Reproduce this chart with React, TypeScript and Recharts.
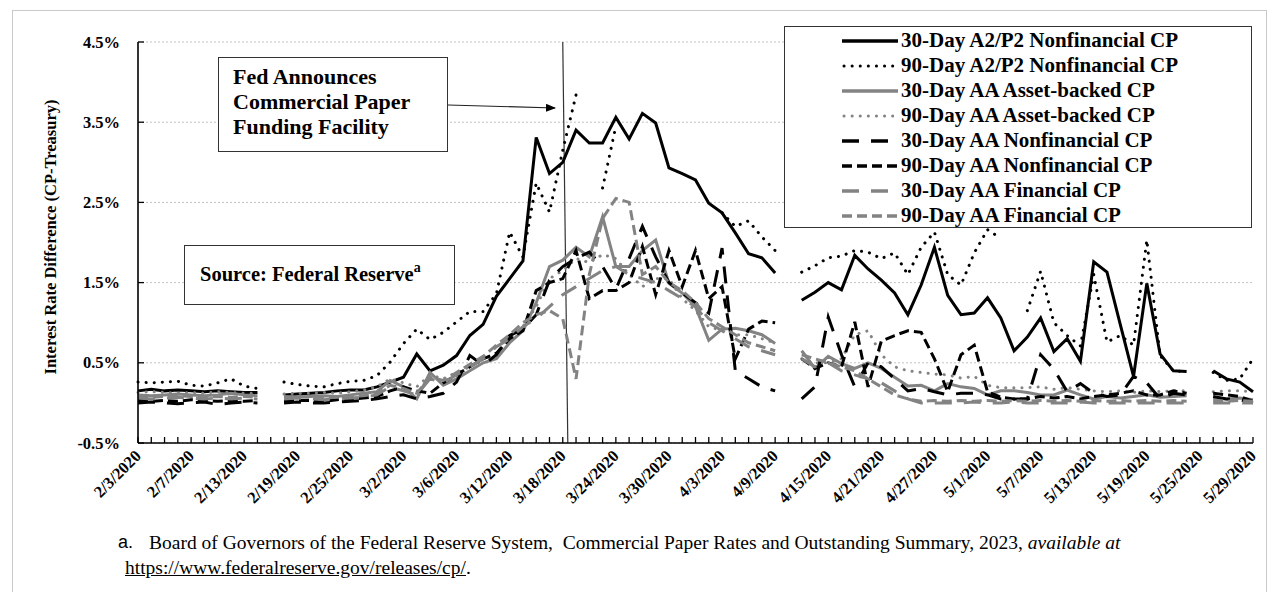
import { LineChart, Line, XAxis, YAxis, CartesianGrid, Legend, ReferenceLine } from "recharts"

// business days 2/3/2020 - 5/29/2020 (holidays kept as empty slots)
const dates = [
  "2/3/2020", "2/4/2020", "2/5/2020", "2/6/2020", "2/7/2020", "2/10/2020", "2/11/2020", "2/12/2020", "2/13/2020", "2/14/2020",
  "2/17/2020", "2/18/2020", "2/19/2020", "2/20/2020", "2/21/2020", "2/24/2020", "2/25/2020", "2/26/2020", "2/27/2020", "2/28/2020",
  "3/2/2020", "3/3/2020", "3/4/2020", "3/5/2020", "3/6/2020", "3/9/2020", "3/10/2020", "3/11/2020", "3/12/2020", "3/13/2020",
  "3/16/2020", "3/17/2020", "3/18/2020", "3/19/2020", "3/20/2020", "3/23/2020", "3/24/2020", "3/25/2020", "3/26/2020", "3/27/2020",
  "3/30/2020", "3/31/2020", "4/1/2020", "4/2/2020", "4/3/2020", "4/6/2020", "4/7/2020", "4/8/2020", "4/9/2020", "4/10/2020",
  "4/13/2020", "4/14/2020", "4/15/2020", "4/16/2020", "4/17/2020", "4/20/2020", "4/21/2020", "4/22/2020", "4/23/2020", "4/24/2020",
  "4/27/2020", "4/28/2020", "4/29/2020", "4/30/2020", "5/1/2020", "5/4/2020", "5/5/2020", "5/6/2020", "5/7/2020", "5/8/2020",
  "5/11/2020", "5/12/2020", "5/13/2020", "5/14/2020", "5/15/2020", "5/18/2020", "5/19/2020", "5/20/2020", "5/21/2020", "5/22/2020",
  "5/25/2020", "5/26/2020", "5/27/2020", "5/28/2020", "5/29/2020",
]

const yTicks = [-0.5, 0.5, 1.5, 2.5, 3.5, 4.5]

const a2p2Nonfin30 = [
  0.15, 0.17, 0.15, 0.16, 0.15, 0.14, 0.15, 0.14, 0.13, 0.13,
  null, 0.10, 0.11, 0.12, 0.13, 0.15, 0.16, 0.16, 0.20, 0.26,
  0.32, 0.61, 0.40, 0.47, 0.59, 0.84, 0.98, 1.33, 1.55, 1.77,
  3.31, 2.86, 3.00, 3.40, 3.24, 3.24, 3.56, 3.29, 3.61, 3.49,
  2.93, 2.86, 2.78, 2.49, 2.37, 2.12, 1.86, 1.81, 1.62, null,
  1.28, 1.38, 1.50, 1.41, 1.84, 1.67, 1.53, 1.37, 1.10, 1.47,
  1.94, 1.34, 1.10, 1.12, 1.31, 1.06, 0.65, 0.82, 1.06, 0.64,
  0.80, 0.52, 1.76, 1.63, 0.98, 0.33, 1.49, 0.61, 0.40, 0.39,
  null, 0.40, 0.30, 0.26, 0.14,
]

const a2p2Nonfin90 = [
  0.26, 0.25, 0.26, 0.27, 0.22, 0.21, 0.25, 0.30, 0.21, 0.18,
  null, 0.26, 0.23, 0.21, 0.20, 0.24, 0.27, 0.28, 0.34, 0.51,
  0.74, 0.92, 0.79, 0.88, 1.01, 1.14, 1.14, 1.36, 2.13, 1.82,
  2.74, 2.38, 3.15, 3.84, null, 2.68, 3.45, null, null, null,
  null, null, null, null, 2.37, 2.20, 2.27, 2.07, 1.90, null,
  1.63, 1.71, 1.81, 1.83, 1.90, 1.88, 1.80, 1.87, 1.60, 1.94,
  2.13, 1.60, 1.47, 1.87, 2.16, 2.05, null, 1.15, 1.64, 1.00,
  0.84, 0.71, 1.60, 0.76, 0.84, 0.72, 2.03, 0.59, 0.40, 0.39,
  null, 0.38, 0.28, 0.30, 0.55,
]

const aaAbs30 = [
  0.10, 0.09, 0.10, 0.11, 0.10, 0.09, 0.10, 0.12, 0.10, 0.09,
  null, 0.08, 0.07, 0.08, 0.09, 0.08, 0.10, 0.12, 0.14, 0.28,
  0.20, 0.05, 0.38, 0.22, 0.30, 0.40, 0.50, 0.55, 0.75, 0.90,
  1.25, 1.70, 1.78, 1.94, 1.82, 2.32, 1.70, 1.70, 1.90, 2.03,
  1.49, 1.37, 1.20, 0.78, 0.92, 0.93, 0.90, 0.85, 0.74, null,
  0.65, 0.43, 0.58, 0.49, 0.43, 0.50, 0.43, 0.32, 0.21, 0.22,
  0.15, 0.24, 0.20, 0.18, 0.10, 0.15, 0.15, 0.13, 0.10, 0.10,
  0.16, 0.10, 0.05, 0.08, 0.06, 0.08, 0.10, 0.07, 0.08, 0.09,
  null, 0.06, 0.05, 0.06, 0.04,
]

const aaAbs90 = [
  0.13, 0.14, 0.13, 0.12, 0.13, 0.12, 0.14, 0.13, 0.12, 0.12,
  null, 0.11, 0.12, 0.12, 0.13, 0.12, 0.14, 0.16, 0.20, 0.30,
  0.25, 0.20, 0.35, 0.30, 0.38, 0.45, 0.55, 0.60, 0.80, 0.95,
  1.20, 1.55, 1.65, 1.80, 1.75, 1.85, 1.80, 1.60, 1.45, 1.55,
  1.55, 1.30, 1.15, 0.95, 0.90, 0.85, 0.85, 0.80, 0.75, null,
  0.55, 0.50, 0.50, 0.55, 0.85, 0.90, 0.60, 0.45, 0.40, 0.38,
  0.36, 0.35, 0.31, 0.33, 0.22, 0.19, 0.19, 0.19, 0.20, 0.17,
  0.19, 0.17, 0.15, 0.14, 0.15, 0.13, 0.15, 0.14, 0.15, 0.15,
  null, 0.14, 0.15, 0.15, 0.14,
]

const aaNonfin30 = [
  0.00, 0.01, 0.00, -0.01, 0.00, 0.01, -0.02, 0.00, 0.01, 0.00,
  null, 0.00, 0.01, 0.00, 0.00, 0.01, 0.02, 0.03, 0.05, 0.08,
  0.10, 0.05, 0.08, 0.12, 0.26, 0.59, 0.47, 0.60, 0.84, 0.92,
  1.10, 1.53, 1.70, 1.80, 1.88, 1.70, 1.42, 1.80, 2.20, 1.82,
  1.50, 1.37, 1.25, 1.12, 1.93, 0.40, 0.30, 0.20, 0.15, null,
  0.05, 0.20, 1.07, 0.60, 0.20, 0.50, 0.45, 0.30, 0.15, 0.18,
  0.14, 0.10, 0.12, 0.12, 0.10, 0.05, 0.05, 0.05, 0.60, 0.42,
  0.14, 0.24, 0.12, 0.08, 0.10, 0.33, 0.25, 0.05, 0.12, 0.10,
  null, 0.08, 0.05, 0.04, 0.00,
]

const aaNonfin90 = [
  0.03, 0.02, 0.03, 0.02, 0.04, 0.03, 0.02, 0.03, 0.02, 0.03,
  null, 0.02, 0.03, 0.03, 0.02, 0.04, 0.05, 0.06, 0.08, 0.15,
  0.20, 0.15, 0.12, 0.25, 0.35, 0.45, 0.55, 0.62, 0.80, 0.90,
  1.40, 1.50, 1.55, 1.90, 1.30, 1.40, 1.40, 1.50, 1.95, 1.35,
  1.90, 1.45, 1.90, 1.30, 1.45, 0.55, 0.92, 1.02, 1.00, null,
  0.55, 0.43, 0.50, 0.45, 1.01, 0.20, 0.77, 0.84, 0.90, 0.88,
  0.55, 0.14, 0.60, 0.72, 0.14, 0.07, 0.05, 0.05, 0.08, 0.06,
  0.08, 0.05, 0.08, 0.10, 0.12, 0.15, 0.10, 0.10, 0.15, 0.12,
  null, 0.12, 0.10, 0.08, 0.02,
]

const aaFin30 = [
  0.06, 0.05, 0.06, 0.07, 0.06, 0.05, 0.06, 0.05, 0.06, 0.05,
  null, 0.05, 0.06, 0.05, 0.04, 0.05, 0.06, 0.07, 0.10, 0.20,
  0.15, 0.10, 0.30, 0.25, 0.35, 0.45, 0.55, 0.70, 0.80, 0.95,
  1.05, 1.20, 1.35, 1.45, 1.55, 1.65, 1.70, 1.60, 1.55, 1.50,
  1.40, 1.30, 1.20, 1.00, 0.90, 0.80, 0.70, 0.65, 0.60, null,
  0.55, 0.45, 0.50, 0.40, 0.35, 0.30, 0.25, 0.15, 0.05, 0.00,
  0.00, 0.00, 0.00, 0.01, 0.00, 0.00, 0.01, 0.00, 0.00, 0.00,
  0.00, 0.01, 0.00, 0.00, 0.00, 0.00, 0.00, 0.00, 0.00, 0.00,
  null, 0.00, 0.00, 0.00, 0.00,
]

const aaFin90 = [
  0.08, 0.07, 0.08, 0.09, 0.08, 0.07, 0.08, 0.07, 0.08, 0.07,
  null, 0.07, 0.08, 0.07, 0.06, 0.07, 0.08, 0.09, 0.12, 0.22,
  0.18, 0.12, 0.32, 0.28, 0.38, 0.48, 0.58, 0.72, 0.85, 1.00,
  1.10, 1.15, 1.05, 0.30, 1.60, 2.30, 2.55, 2.50, 1.60, 1.70,
  1.50, 1.40, 1.25, 1.05, 0.95, 0.85, 0.75, 0.70, 0.65, null,
  0.60, 0.55, 0.50, 0.45, 0.40, 0.30, 0.20, 0.10, 0.05, 0.02,
  0.03, 0.02, 0.03, 0.02, 0.03, 0.02, 0.03, 0.02, 0.03, 0.02,
  0.03, 0.02, 0.03, 0.02, 0.03, 0.02, 0.03, 0.02, 0.03, 0.02,
  null, 0.03, 0.02, 0.03, 0.02,
]

const GRAY = "#838383"
const SERIF = '"Liberation Serif", "Times New Roman", serif'

const series = [
  { key: "a2p2Nonfin30", name: "30-Day A2/P2 Nonfinancial CP", values: a2p2Nonfin30, color: "#000", dash: undefined, dot: false },
  { key: "a2p2Nonfin90", name: "90-Day A2/P2 Nonfinancial CP", values: a2p2Nonfin90, color: "#000", dash: "0.1 8", dot: true },
  { key: "aaAbs30", name: "30-Day AA Asset-backed CP", values: aaAbs30, color: GRAY, dash: undefined, dot: false },
  { key: "aaAbs90", name: "90-Day AA Asset-backed CP", values: aaAbs90, color: GRAY, dash: "0.1 8", dot: true },
  { key: "aaNonfin30", name: "30-Day AA Nonfinancial CP", values: aaNonfin30, color: "#000", dash: "17 12", dot: false },
  { key: "aaNonfin90", name: "90-Day AA Nonfinancial CP", values: aaNonfin90, color: "#000", dash: "10 5", dot: false },
  { key: "aaFin30", name: "30-Day AA Financial CP", values: aaFin30, color: GRAY, dash: "17 12", dot: false },
  { key: "aaFin90", name: "90-Day AA Financial CP", values: aaFin90, color: GRAY, dash: "10 5", dot: false },
]

const data = dates.map((d, i) => {
  const row: Record<string, any> = { i, date: d }
  series.forEach((s) => (row[s.key] = s.values[i]))
  return row
})

const xTicks = dates.map((_, i) => i)

function DateTick({ x, y, payload }: any) {
  const i = payload.value
  return (
    <g>
      <line x1={x} y1={y} x2={x} y2={y - 6} stroke="#000" strokeWidth={1.3} />
      {i % 4 === 0 && (
        <text
          x={x + 4}
          y={y + 14}
          transform={`rotate(-45 ${x + 4} ${y + 14})`}
          textAnchor="end"
          fontFamily={SERIF}
          fontWeight="bold"
          fontSize={16.5}
          fill="#000"
        >
          {dates[i]}
        </text>
      )}
    </g>
  )
}

function PctTick({ x, y, payload }: any) {
  return (
    <g>
      <line x1={x} y1={y} x2={x + 6} y2={y} stroke="#000" strokeWidth={1.3} />
      <text x={x - 18} y={y + 5.5} textAnchor="end" fontFamily={SERIF} fontWeight="bold" fontSize={16.5} fill="#000">
        {payload.value.toFixed(1)}%
      </text>
    </g>
  )
}

function YTitle() {
  return (
    <text
      x={50}
      y={237}
      transform="rotate(-90 50 237)"
      textAnchor="middle"
      dominantBaseline="central"
      fontFamily={SERIF}
      fontWeight="bold"
      fontSize={16.5}
      fill="#000"
    >
      Interest  Rate Difference (CP-Treasury)
    </text>
  )
}

function LegendBox() {
  return (
    <div
      style={{
        width: 468,
        height: 202,
        boxSizing: "border-box",
        border: "1.5px solid #333",
        background: "#fff",
        paddingTop: 1,
        paddingLeft: 56,
      }}
    >
      {series.map((s) => (
        <div key={s.key} style={{ display: "flex", alignItems: "center", height: 25 }}>
          <svg width={58} height={10} style={{ flex: "none" }}>
            <line
              x1={s.dot ? 3 : 1}
              y1={5}
              x2={57}
              y2={5}
              stroke={s.color}
              strokeWidth={s.dot ? 3 : 3.5}
              strokeDasharray={s.dash}
              strokeLinecap={s.dot ? "round" : "butt"}
            />
          </svg>
          <span style={{ fontFamily: SERIF, fontWeight: "bold", fontSize: 21, lineHeight: "25px", marginLeft: 2 }}>
            {s.name}
          </span>
        </div>
      ))}
    </div>
  )
}

export default function App() {
  const boxText = { fontFamily: SERIF, fontWeight: "bold" as const, color: "#000" }
  return (
    <div style={{ position: "relative", width: 1268, height: 592, background: "#fff", overflow: "hidden" }}>
      <style>{"body{margin:0}"}</style>
      <div
        style={{
          position: "absolute",
          left: 12,
          top: 10,
          width: 1253,
          height: 620,
          border: "1px solid #c9c9c9",
        }}
      />
      <div style={{ position: "absolute", left: 0, top: 0 }}>
        <LineChart width={1268} height={520} data={data} margin={{ top: 42, right: 15, bottom: 0, left: 0 }}>
          <CartesianGrid horizontal vertical={false} stroke="#c4c4c4" strokeDasharray="2 2" />
          <XAxis
            dataKey="i"
            type="number"
            domain={[0, 84]}
            ticks={xTicks}
            interval={0}
            height={77}
            tickSize={0}
            tickMargin={0}
            tick={<DateTick />}
            axisLine={{ stroke: "#000", strokeWidth: 1.6 }}
          />
          <YAxis
            domain={[-0.5, 4.5]}
            ticks={yTicks}
            width={138}
            tickSize={0}
            tickMargin={0}
            tick={<PctTick />}
            axisLine={{ stroke: "#000", strokeWidth: 1.6 }}
            label={<YTitle />}
          />
          <ReferenceLine
            segment={[
              { x: 32, y: 4.5 },
              { x: 32.38, y: -0.5 },
            ]}
            stroke="#333"
            strokeWidth={1.2}
          />
          {series.map((s) => (
            <Line
              key={s.key}
              type="linear"
              dataKey={s.key}
              name={s.name}
              stroke={s.color}
              strokeWidth={3}
              strokeDasharray={s.dash}
              strokeLinecap={s.dot ? "round" : "butt"}
              dot={false}
              activeDot={false}
              isAnimationActive={false}
            />
          ))}
          <Legend
            layout="vertical"
            align="center"
            verticalAlign="middle"
            content={<LegendBox />}
            wrapperStyle={{ position: "absolute", left: 784, top: 26, width: 468, height: 202 }}
          />
        </LineChart>
      </div>

      <svg width={1268} height={592} style={{ position: "absolute", left: 0, top: 0, pointerEvents: "none" }}>
        <defs>
          <marker id="arrowHead" markerWidth="10" markerHeight="8" refX="9" refY="4" orient="auto" markerUnits="userSpaceOnUse">
            <path d="M0,0 L10,4 L0,8 z" fill="#000" />
          </marker>
        </defs>
        <line x1={448} y1={105} x2={555} y2={108} stroke="#222" strokeWidth={1.2} markerEnd="url(#arrowHead)" />
      </svg>

      <div
        style={{
          position: "absolute",
          left: 218,
          top: 57,
          width: 230,
          height: 95,
          boxSizing: "border-box",
          border: "1.5px solid #333",
          background: "#fff",
          padding: "6px 0 0 14px",
          fontSize: 22,
          lineHeight: "25px",
          ...boxText,
        }}
      >
        <div>Fed Announces</div>
        <div>Commercial Paper</div>
        <div>Funding Facility</div>
      </div>

      <div
        style={{
          position: "absolute",
          left: 184,
          top: 245,
          width: 271,
          height: 60,
          boxSizing: "border-box",
          border: "1.5px solid #333",
          background: "#fff",
          padding: "16px 0 0 15px",
          fontSize: 20.5,
          lineHeight: "24px",
          ...boxText,
        }}
      >
        Source: Federal Reserve<sup style={{ fontSize: 14, verticalAlign: 0, position: "relative", top: -9 }}>a</sup>
      </div>

      <div style={{ position: "absolute", left: 118, top: 530, fontFamily: SERIF, fontSize: 19.5, lineHeight: "25px", color: "#000" }}>
        <div style={{ display: "flex", whiteSpace: "nowrap" }}>
          <span style={{ width: 31, fontFamily: '"Liberation Sans", Arial, sans-serif', fontSize: 18 }}>a.</span>
          <span>
            Board of Governors of the Federal Reserve System,&nbsp; Commercial Paper Rates and Outstanding Summary, 2023,{" "}
            <i>available at</i>
          </span>
        </div>
        <div style={{ paddingLeft: 7 }}>
          <span style={{ textDecoration: "underline" }}>https://www.federalreserve.gov/releases/cp/</span>.
        </div>
      </div>
    </div>
  )
}
